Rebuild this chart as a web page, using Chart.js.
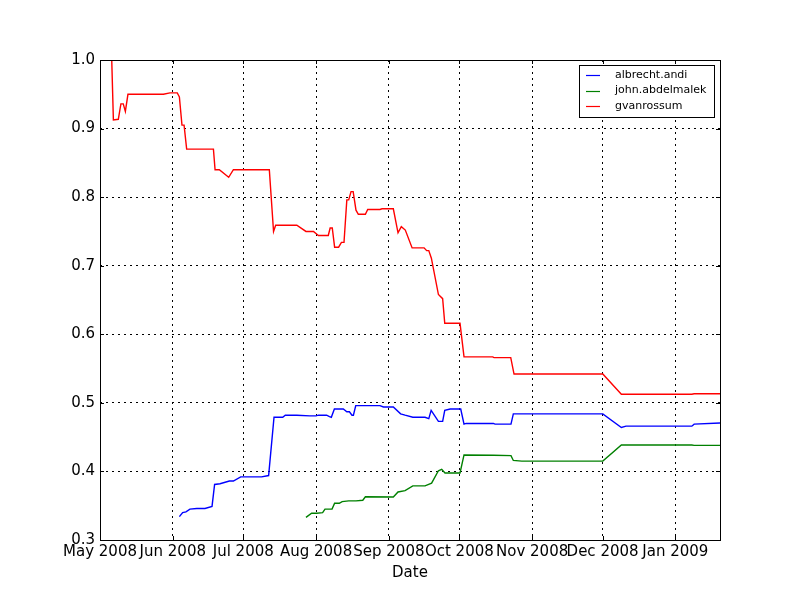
<!DOCTYPE html>
<html>
<head>
<meta charset="utf-8">
<script src="https://cdn.jsdelivr.net/npm/chart.js@4.4.1/dist/chart.umd.min.js"></script>
<style>
  html, body { margin: 0; padding: 0; background: #fff; }
</style>
</head>
<body>
<canvas id="lineChart" width="800" height="600"></canvas>
<script>
// x values are days counted from 1 May 2008
const monthTicks = [0, 31, 61, 92, 123, 153, 184, 214, 245]
const monthLabels = ['May 2008', 'Jun 2008', 'Jul 2008', 'Aug 2008', 'Sep 2008', 'Oct 2008', 'Nov 2008', 'Dec 2008', 'Jan 2009']
const yTicks = [0.3, 0.4, 0.5, 0.6, 0.7, 0.8, 0.9, 1.0]
const seriesNames = ['albrecht.andi', 'john.abdelmalek', 'gvanrossum']
const seriesColors = ['#0000ff', '#008000', '#ff0000']

const albrechtDays = [33.8, 35.2, 36.6, 38.3, 41.2, 44.7, 47.7, 48.8, 51.1, 55.1, 56.8, 59.9, 68.8, 71.8, 74.1, 77.8, 78.9, 83.8, 89.4, 92.0, 93.0, 96.5, 97.7, 98.5, 99.8, 103.6, 105.1, 106.2, 107.3, 107.9, 108.9, 119.2, 120.7, 124.9, 128.0, 129.9, 133.2, 138.4, 140.0, 141.0, 144.1, 145.9, 146.8, 149.1, 153.6, 155.0, 155.9, 167.5, 168.2, 175.0, 176.0, 214.1, 222.0, 224.0, 252.0, 253.0, 264]
const albrechtValues = [0.334, 0.340, 0.341, 0.345, 0.346, 0.346, 0.349, 0.381, 0.382, 0.386, 0.386, 0.392, 0.392, 0.394, 0.479, 0.479, 0.482, 0.482, 0.481, 0.481, 0.482, 0.482, 0.480, 0.479, 0.491, 0.491, 0.487, 0.487, 0.482, 0.482, 0.496, 0.496, 0.494, 0.494, 0.484, 0.482, 0.479, 0.479, 0.477, 0.489, 0.473, 0.473, 0.489, 0.491, 0.491, 0.469, 0.470, 0.470, 0.469, 0.469, 0.484, 0.484, 0.464, 0.466, 0.466, 0.469, 0.4706]

const johnDays = [87.7, 90.1, 92.3, 94.8, 95.8, 98.8, 99.9, 101.9, 103.1, 105.9, 109.0, 111.9, 113.0, 124.9, 126.9, 129.9, 133.2, 138.4, 141.2, 144.1, 145.5, 146.9, 153.3, 155.0, 167.5, 175.0, 176.0, 179.6, 214.1, 222.0, 252.0, 253.0, 264]
const johnValues = [0.333, 0.339, 0.339, 0.340, 0.345, 0.345, 0.3535, 0.3535, 0.356, 0.357, 0.357, 0.358, 0.363, 0.3627, 0.370, 0.372, 0.379, 0.379, 0.383, 0.401, 0.403, 0.3977, 0.3977, 0.424, 0.4235, 0.423, 0.416, 0.415, 0.415, 0.4385, 0.4385, 0.438, 0.438]

const guidoDays = [5.0, 5.7, 7.8, 8.9, 9.9, 10.8, 11.9, 27.0, 29.8, 32.9, 33.8, 34.9, 35.8, 36.9, 48.3, 49.0, 50.8, 54.8, 56.8, 72.1, 73.9, 74.8, 83.8, 87.7, 90.9, 93.0, 97.2, 98.0, 98.9, 99.9, 101.6, 102.8, 103.9, 105.1, 105.9, 106.9, 107.8, 109.0, 110.0, 113.0, 114.0, 119.2, 120.1, 124.9, 126.9, 128.3, 130.0, 132.9, 138.0, 139.1, 140.0, 141.1, 144.1, 145.9, 146.8, 153.3, 155.0, 167.2, 167.8, 174.9, 176.3, 214.1, 222.0, 252.0, 253.0, 264]
const guidoValues = [1.0, 0.9125, 0.9135, 0.936, 0.936, 0.925, 0.950, 0.950, 0.952, 0.952, 0.946, 0.905, 0.905, 0.870, 0.870, 0.840, 0.840, 0.829, 0.840, 0.840, 0.750, 0.759, 0.759, 0.750, 0.750, 0.744, 0.744, 0.755, 0.755, 0.727, 0.727, 0.734, 0.734, 0.796, 0.796, 0.808, 0.808, 0.781, 0.775, 0.775, 0.782, 0.782, 0.783, 0.783, 0.748, 0.757, 0.752, 0.726, 0.726, 0.722, 0.722, 0.711, 0.658, 0.652, 0.616, 0.616, 0.567, 0.567, 0.566, 0.566, 0.542, 0.542, 0.5125, 0.5125, 0.5133, 0.5133]

const toPoints = (xs, ys) => xs.map((x, i) => ({ x: x, y: ys[i] }))
const allSeries = [toPoints(albrechtDays, albrechtValues), toPoints(johnDays, johnValues), toPoints(guidoDays, guidoValues)]

// frame, inward ticks and legend box like matplotlib
const framePlugin = {
    id: 'frame',
    afterDraw(chart) {
        const c = chart.ctx
        const a = chart.chartArea
        const xs = chart.scales.x
        const ys = chart.scales.y
        c.save()
        c.strokeStyle = '#000'
        c.lineWidth = 1
        c.beginPath()
        monthTicks.forEach(v => {
            const px = Math.round(xs.getPixelForValue(v)) + 0.5
            c.moveTo(px, a.bottom); c.lineTo(px, a.bottom - 4)
            c.moveTo(px, a.top); c.lineTo(px, a.top + 4)
        })
        yTicks.forEach(v => {
            const py = Math.round(ys.getPixelForValue(v)) + 0.5
            c.moveTo(a.left, py); c.lineTo(a.left + 4, py)
            c.moveTo(a.right, py); c.lineTo(a.right - 4, py)
        })
        c.stroke()
        c.strokeRect(Math.round(a.left) + 0.5, Math.round(a.top) + 0.5, Math.round(a.right - a.left), Math.round(a.bottom - a.top))

        // legend
        const bx = a.right - 141, by = a.top + 5, bw = 135, bh = 52
        c.fillStyle = '#fff'
        c.fillRect(bx, by, bw, bh)
        c.strokeStyle = '#000'
        c.strokeRect(bx + 0.5, by + 0.5, bw, bh)
        c.font = '11px "DejaVu Sans"'
        c.textBaseline = 'middle'
        seriesNames.forEach((name, i) => {
            const ly = by + 10 + i * 15.5
            c.strokeStyle = seriesColors[i]
            c.lineWidth = 1.2
            c.beginPath()
            c.moveTo(bx + 7, Math.round(ly) + 0.5)
            c.lineTo(bx + 21, Math.round(ly) + 0.5)
            c.stroke()
            c.fillStyle = '#000'
            c.fillText(name, bx + 36, ly)
        })
        c.restore()
    }
}

const ctx = document.getElementById('lineChart')
const myChart = new Chart(ctx, {
    type: 'line',
    data: {
        datasets: allSeries.map((pts, i) => ({
            label: seriesNames[i],
            data: pts,
            borderColor: seriesColors[i],
            backgroundColor: seriesColors[i],
            borderWidth: 1.4,
            pointRadius: 0,
            tension: 0,
            fill: false
        }))
    },
    options: {
        responsive: false,
        animation: false,
        layout: { padding: { top: 60, right: 80, bottom: 0, left: 0 } },
        scales: {
            x: {
                type: 'linear',
                min: 0,
                max: 264,
                afterFit: s => { s.height = 60 },
                afterBuildTicks: s => { s.ticks = monthTicks.map(v => ({ value: v })) },
                grid: { color: '#000', lineWidth: 1, drawTicks: false },
                border: { display: false, dash: [2, 4] },
                ticks: {
                    autoSkip: false,
                    maxRotation: 0,
                    padding: 3,
                    color: '#000',
                    font: { family: 'DejaVu Sans', size: 15 },
                    callback: (v) => monthLabels[monthTicks.indexOf(v)]
                },
                title: {
                    display: true,
                    text: 'Date',
                    color: '#000',
                    font: { family: 'DejaVu Sans', size: 15 },
                    padding: { top: 0, bottom: 18 }
                }
            },
            y: {
                min: 0.3,
                max: 1.0,
                afterFit: s => { s.width = 100 },
                afterBuildTicks: s => { s.ticks = yTicks.map(v => ({ value: v })) },
                grid: { color: '#000', lineWidth: 1, drawTicks: false },
                border: { display: false, dash: [2, 4] },
                ticks: {
                    padding: 5,
                    color: '#000',
                    font: { family: 'DejaVu Sans', size: 15 },
                    callback: v => v.toFixed(1)
                }
            }
        },
        plugins: {
            legend: { display: false },
            tooltip: { enabled: false }
        }
    },
    plugins: [framePlugin]
})
</script>
</body>
</html>
